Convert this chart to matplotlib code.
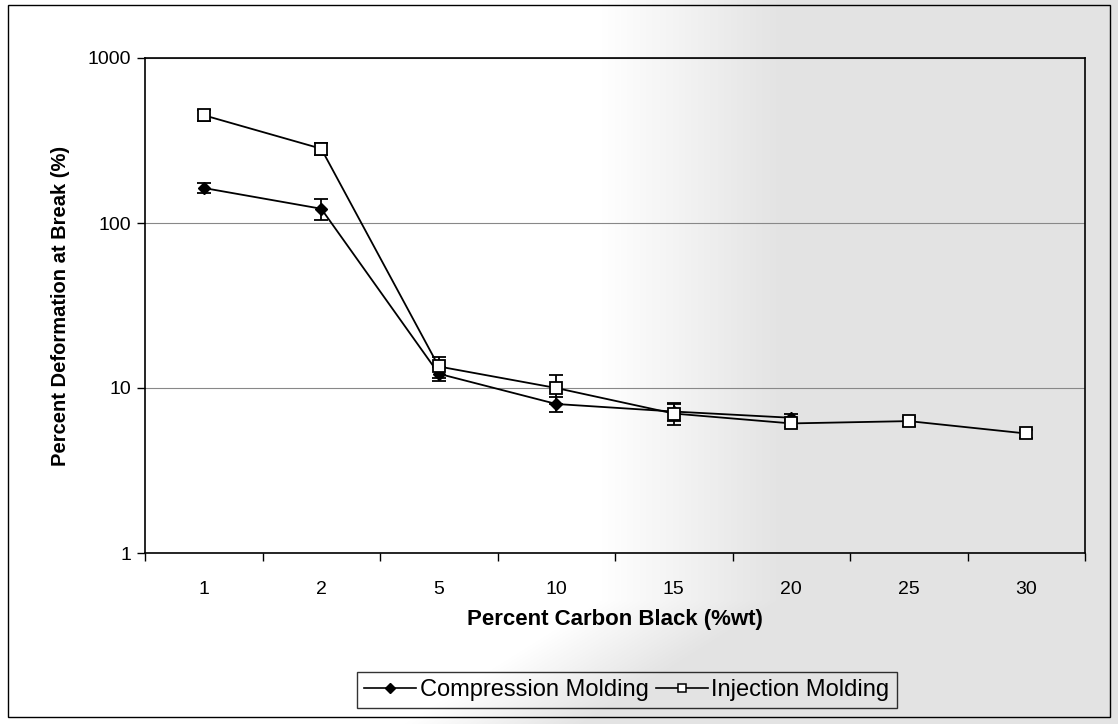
import numpy as np
import matplotlib
matplotlib.use("Agg")
import matplotlib.pyplot as plt
from matplotlib.lines import Line2D

plt.rcParams['font.family'] = ['Liberation Sans', 'DejaVu Sans']

# carbon black loading (category axis)
carbon = ["1", "2", "5", "10", "15", "20", "25", "30"]

# deformation at break (%) and error bars
comp_vals = [163, 122, 12.2, 8.0, 7.2, 6.6]
comp_err = [12, 17, 1.2, 0.8, 0.9, 0.4]
inj_vals = [450, 282, 13.5, 10.0, 7.0, 6.1, 6.3, 5.3]
inj_err = [35, 25, 2.0, 2.0, 1.0, 0.3, 0.4, 0.3]

W, H = 1118, 724
fig = plt.figure(figsize=(W / 100, H / 100), dpi=100)

# light gray tone over the right-hand side of the sheet
bg = fig.add_axes([0, 0, 1, 1], zorder=-5)
xx, yy = np.meshgrid(np.arange(W), np.arange(H))
edge = np.where(yy < 600, 600, 600 - (yy - 600) * 1.6)
alpha = np.clip((xx - edge) / 180.0, 0, 1) * 0.45
rgba = np.zeros((H, W, 4))
rgba[..., :3] = 0.76
rgba[..., 3] = alpha
bg.imshow(rgba, extent=[0, W, H, 0], aspect='auto', interpolation='bilinear')
bg.set_xlim(0, W)
bg.set_ylim(H, 0)
bg.axis('off')

# outer chart frame
fig.patches.append(plt.Rectangle((8 / W, 1 - 717 / H), 1102 / W, 712 / H,
                                 transform=fig.transFigure, fill=False,
                                 edgecolor='black', linewidth=1.0))

ax = fig.add_axes([145 / W, 1 - 553 / H, 940 / W, 495 / H])
ax.set_facecolor('none')

x_comp = np.arange(len(comp_vals))
x_inj = np.arange(len(inj_vals))

ax.errorbar(x_comp, comp_vals, yerr=comp_err, color='black', lw=1.3,
            marker='D', markersize=6.5, markerfacecolor='black',
            markeredgecolor='black', capsize=5, elinewidth=1.3,
            capthick=1.3, zorder=3)
ax.errorbar(x_inj, inj_vals, yerr=inj_err, color='black', lw=1.3,
            marker='s', markersize=8, markerfacecolor='white',
            markeredgecolor='black', markeredgewidth=1.3, capsize=5,
            elinewidth=1.3, capthick=1.3, zorder=4)

ax.set_yscale('log')
ax.set_ylim(1, 1000)
ax.set_xlim(-0.5, len(carbon) - 0.5)
ax.set_yticks([1, 10, 100, 1000])
ax.set_yticklabels(["1", "10", "100", "1000"])
ax.yaxis.set_minor_locator(matplotlib.ticker.NullLocator())
ax.tick_params(axis='y', which='major', length=6, width=1, direction='out',
               labelsize=14, pad=4)

ax.set_xticks(np.arange(len(carbon)))
ax.set_xticklabels(carbon)
ax.set_xticks(np.arange(-0.5, len(carbon)), minor=True)
ax.tick_params(axis='x', which='major', length=0, labelsize=14, pad=20)
ax.tick_params(axis='x', which='minor', length=6, width=1, direction='out')

ax.grid(axis='y', which='major', color='#888888', linewidth=0.8)
ax.set_axisbelow(True)
for s in ax.spines.values():
    s.set_linewidth(1.2)
    s.set_color('black')

ax.set_xlabel("Percent Carbon Black (%wt)", fontsize=16, fontweight='bold',
              labelpad=8)
ax.set_ylabel("Percent Deformation at Break (%)", fontsize=14.5,
              fontweight='bold', labelpad=13)

handles = [
    Line2D([], [], color='black', lw=1.2, marker='D', markersize=5,
           markerfacecolor='black', label='Compression Molding'),
    Line2D([], [], color='black', lw=1.2, marker='s', markersize=5.5,
           markerfacecolor='white', markeredgewidth=1.1,
           label='Injection Molding'),
]
leg = fig.legend(handles=handles, loc='center',
                 bbox_to_anchor=(627 / W, 1 - 690 / H), ncol=2,
                 fontsize=17, frameon=True, fancybox=False,
                 edgecolor='black', facecolor='none', handlelength=2.2,
                 columnspacing=0.3, handletextpad=0.15, borderpad=0.3)
leg.get_frame().set_linewidth(1.0)

fig.savefig("out.png", dpi=100)
